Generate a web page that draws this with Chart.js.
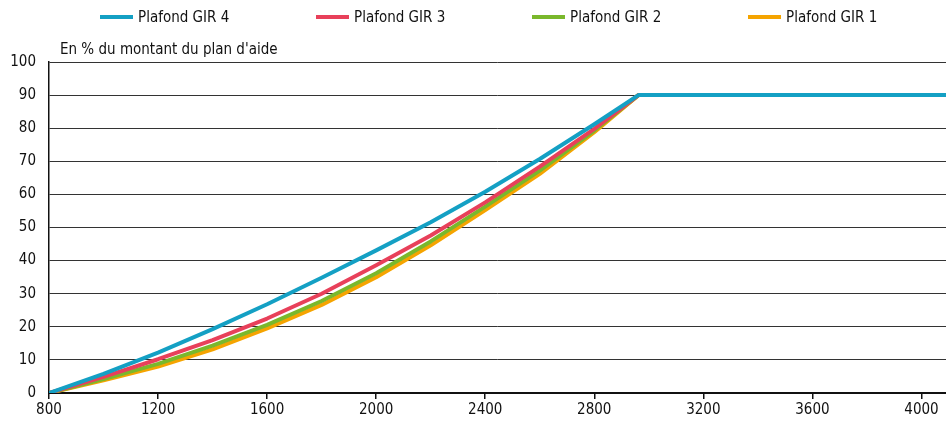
<!DOCTYPE html>
<html>
<head>
<meta charset="utf-8">
<script src="https://cdn.jsdelivr.net/npm/chart.js@4/dist/chart.umd.min.js"></script>
<style>
  html, body { margin: 0; padding: 0; background: #fff; }
  body { width: 946px; height: 424px; position: relative; overflow: hidden;
         font-family: "Liberation Sans Narrow", "DejaVu Sans Condensed", sans-serif; color: #111; }
  #wrap { position: absolute; left: 0; top: 0; width: 946px; height: 424px; }
  #legend { position: absolute; top: 8px; left: 100px; display: flex; font-size: 15px; }
  #legend .item { display: flex; align-items: center; width: 216px; }
  #legend .swatch { width: 33px; height: 4px; margin-right: 5px; }
  #unit { position: absolute; left: 60px; top: 40px; font-size: 15px; }
</style>
</head>
<body>
<div id="wrap"><canvas id="c" width="946" height="424"></canvas></div>
<div id="legend"></div>
<div id="unit">En % du montant du plan d'aide</div>
<script>
// montant du plan d'aide (x) and plafond in % (y)
const xValues = [800, 1000, 1200, 1400, 1600, 1800, 2000, 2200, 2400, 2600, 2800, 2962, 4090];
const gir4 = [0, 5.8, 12.2, 19.3, 26.8, 34.8, 43.1, 51.6, 60.8, 70.7, 81.2, 90, 90];
const gir3 = [0, 4.9, 10.2, 16.0, 22.5, 30.0, 38.6, 47.6, 57.6, 68.4, 79.8, 90, 90];
const gir2 = [0, 4.2, 8.8, 14.3, 20.6, 27.8, 36.2, 45.8, 56.3, 67.2, 79.3, 90, 90];
const gir1 = [0, 3.8, 8.0, 13.2, 19.5, 26.6, 35.0, 44.6, 55.3, 66.2, 78.8, 90, 90];
const seriesNames = ["Plafond GIR 4", "Plafond GIR 3", "Plafond GIR 2", "Plafond GIR 1"];
const seriesColors = ["#14a0c4", "#e8405a", "#7ab82c", "#f5a400"];
const xTicks = [800, 1200, 1600, 2000, 2400, 2800, 3200, 3600, 4000];

const FONT = "'Liberation Sans Narrow', 'DejaVu Sans Condensed', sans-serif";

const allSeries = [gir4, gir3, gir2, gir1];
const legend = document.getElementById("legend");
seriesNames.forEach((name, i) => {
  const item = document.createElement("div");
  item.className = "item";
  item.innerHTML = `<span class="swatch" style="background:${seriesColors[i]}"></span><span>${name}</span>`;
  legend.appendChild(item);
});

new Chart(document.getElementById("c"), {
  type: "line",
  data: {
    datasets: allSeries.map((vals, i) => ({
      label: seriesNames[i],
      data: xValues.map((x, j) => ({ x, y: vals[j] })),
      borderColor: seriesColors[i],
      backgroundColor: seriesColors[i],
      borderWidth: 4,
      pointRadius: 0,
      tension: 0,
      borderJoinStyle: "round",
      borderCapStyle: "round",
    })),
  },
  options: {
    responsive: false,
    animation: false,
    layout: { padding: { top: 62, right: 0, left: 0, bottom: 0 } },
    plugins: { legend: { display: false }, tooltip: { enabled: false } },
    scales: {
      x: {
        type: "linear",
        min: 800,
        max: 4090,
        afterBuildTicks: (scale) => {
          scale.ticks = xTicks.map((v) => ({ value: v }));
        },
        afterFit: (scale) => { scale.height = 31; },
        ticks: {
          color: "#111",
          font: { family: FONT, size: 15 },
          padding: 2,
          maxRotation: 0,
          autoSkip: false,
          callback: (v) => String(v),
        },
        grid: { display: true, drawOnChartArea: false, drawTicks: true, tickLength: 6, color: "#111", lineWidth: 1.5 },
        border: { display: true, color: "#111", width: 2 },
      },
      y: {
        min: 0,
        max: 100,
        afterFit: (scale) => { scale.width = 49; },
        ticks: {
          stepSize: 10,
          color: "#111",
          font: { family: FONT, size: 15 },
          padding: 13,
        },
        grid: { color: "#333", lineWidth: 1, drawTicks: false },
        border: { display: true, color: "#111", width: 1.5 },
      },
    },
  },
});
</script>
</body>
</html>
